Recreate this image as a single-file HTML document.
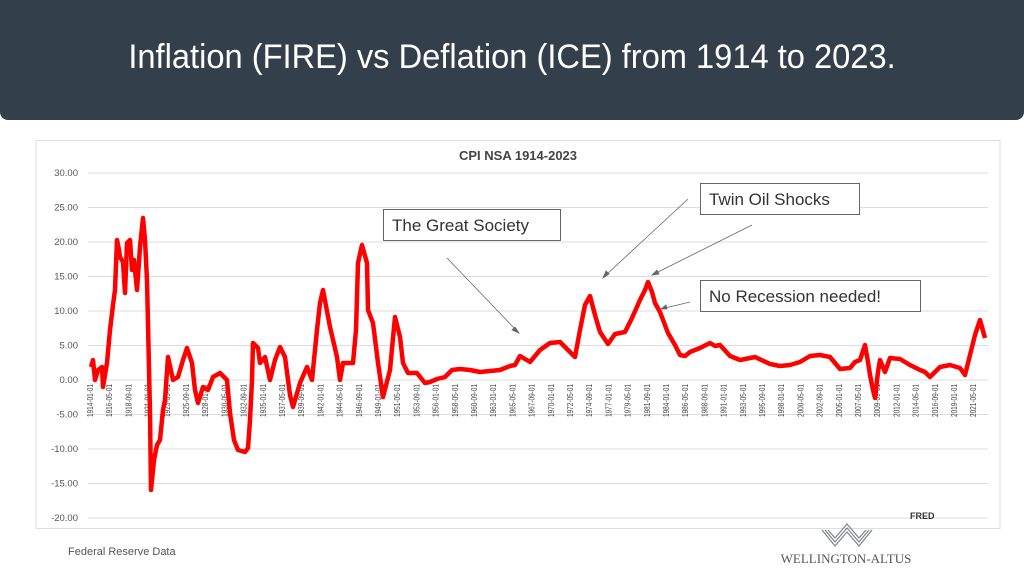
<!DOCTYPE html>
<html><head><meta charset="utf-8"><style>
body{margin:0;width:1024px;height:576px;background:#fff;overflow:hidden;position:relative;font-family:"Liberation Sans",sans-serif}
.hdr{position:absolute;left:0;top:0;width:1024px;height:120px;background:#333f4a;border-radius:0 0 8px 8px}
.hdr div{position:absolute;left:0;width:1024px;top:38px;text-align:center;color:#fff;font-size:34px;transform:scaleX(0.96);transform-origin:512px 0}
</style></head><body>
<div class="hdr"><div>Inflation (FIRE) vs Deflation (ICE) from 1914 to 2023.</div></div>
<svg width="1024" height="576" style="position:absolute;left:0;top:0">
<rect x="36" y="140.5" width="964" height="388" fill="#fff" stroke="#ddd"/>
<text x="518" y="160" text-anchor="middle" font-size="13" font-weight="bold" fill="#444">CPI NSA 1914-2023</text>
<g stroke="#dcdcdc" stroke-width="1">
<line x1="88" x2="988" y1="173" y2="173"/><line x1="88" x2="988" y1="207.5" y2="207.5"/><line x1="88" x2="988" y1="242" y2="242"/><line x1="88" x2="988" y1="276.5" y2="276.5"/><line x1="88" x2="988" y1="311" y2="311"/><line x1="88" x2="988" y1="345.5" y2="345.5"/><line x1="88" x2="988" y1="380" y2="380"/><line x1="88" x2="988" y1="414.5" y2="414.5"/><line x1="88" x2="988" y1="449" y2="449"/><line x1="88" x2="988" y1="483.5" y2="483.5"/><line x1="88" x2="988" y1="518" y2="518"/>
</g>
<g font-size="9.5" fill="#555" text-anchor="end">
<text x="78" y="176">30.00</text><text x="78" y="210.5">25.00</text><text x="78" y="245">20.00</text><text x="78" y="279.5">15.00</text><text x="78" y="314">10.00</text><text x="78" y="348.5">5.00</text><text x="78" y="383">0.00</text><text x="78" y="417.5">-5.00</text><text x="78" y="452">-10.00</text><text x="78" y="486.5">-15.00</text><text x="78" y="521">-20.00</text>
</g>
<g font-size="8" fill="#444" text-anchor="end">
<text transform="translate(93,384) rotate(-90)" textLength="33" lengthAdjust="spacingAndGlyphs">1914-01-01</text>
<text transform="translate(112.2,384) rotate(-90)" textLength="33" lengthAdjust="spacingAndGlyphs">1916-05-01</text>
<text transform="translate(131.4,384) rotate(-90)" textLength="33" lengthAdjust="spacingAndGlyphs">1918-09-01</text>
<text transform="translate(150.6,384) rotate(-90)" textLength="33" lengthAdjust="spacingAndGlyphs">1921-01-01</text>
<text transform="translate(169.8,384) rotate(-90)" textLength="33" lengthAdjust="spacingAndGlyphs">1923-05-01</text>
<text transform="translate(189,384) rotate(-90)" textLength="33" lengthAdjust="spacingAndGlyphs">1925-09-01</text>
<text transform="translate(208.2,384) rotate(-90)" textLength="33" lengthAdjust="spacingAndGlyphs">1928-01-01</text>
<text transform="translate(227.4,384) rotate(-90)" textLength="33" lengthAdjust="spacingAndGlyphs">1930-05-01</text>
<text transform="translate(246.6,384) rotate(-90)" textLength="33" lengthAdjust="spacingAndGlyphs">1932-09-01</text>
<text transform="translate(265.8,384) rotate(-90)" textLength="33" lengthAdjust="spacingAndGlyphs">1935-01-01</text>
<text transform="translate(285,384) rotate(-90)" textLength="33" lengthAdjust="spacingAndGlyphs">1937-05-01</text>
<text transform="translate(304.2,384) rotate(-90)" textLength="33" lengthAdjust="spacingAndGlyphs">1939-09-01</text>
<text transform="translate(323.4,384) rotate(-90)" textLength="33" lengthAdjust="spacingAndGlyphs">1942-01-01</text>
<text transform="translate(342.6,384) rotate(-90)" textLength="33" lengthAdjust="spacingAndGlyphs">1944-05-01</text>
<text transform="translate(361.8,384) rotate(-90)" textLength="33" lengthAdjust="spacingAndGlyphs">1946-09-01</text>
<text transform="translate(381,384) rotate(-90)" textLength="33" lengthAdjust="spacingAndGlyphs">1949-01-01</text>
<text transform="translate(400.2,384) rotate(-90)" textLength="33" lengthAdjust="spacingAndGlyphs">1951-05-01</text>
<text transform="translate(419.4,384) rotate(-90)" textLength="33" lengthAdjust="spacingAndGlyphs">1953-09-01</text>
<text transform="translate(438.6,384) rotate(-90)" textLength="33" lengthAdjust="spacingAndGlyphs">1956-01-01</text>
<text transform="translate(457.8,384) rotate(-90)" textLength="33" lengthAdjust="spacingAndGlyphs">1958-05-01</text>
<text transform="translate(477,384) rotate(-90)" textLength="33" lengthAdjust="spacingAndGlyphs">1960-09-01</text>
<text transform="translate(496.2,384) rotate(-90)" textLength="33" lengthAdjust="spacingAndGlyphs">1963-01-01</text>
<text transform="translate(515.4,384) rotate(-90)" textLength="33" lengthAdjust="spacingAndGlyphs">1965-05-01</text>
<text transform="translate(534.6,384) rotate(-90)" textLength="33" lengthAdjust="spacingAndGlyphs">1967-09-01</text>
<text transform="translate(553.8,384) rotate(-90)" textLength="33" lengthAdjust="spacingAndGlyphs">1970-01-01</text>
<text transform="translate(573,384) rotate(-90)" textLength="33" lengthAdjust="spacingAndGlyphs">1972-05-01</text>
<text transform="translate(592.2,384) rotate(-90)" textLength="33" lengthAdjust="spacingAndGlyphs">1974-09-01</text>
<text transform="translate(611.4,384) rotate(-90)" textLength="33" lengthAdjust="spacingAndGlyphs">1977-01-01</text>
<text transform="translate(630.6,384) rotate(-90)" textLength="33" lengthAdjust="spacingAndGlyphs">1979-05-01</text>
<text transform="translate(649.8,384) rotate(-90)" textLength="33" lengthAdjust="spacingAndGlyphs">1981-09-01</text>
<text transform="translate(669,384) rotate(-90)" textLength="33" lengthAdjust="spacingAndGlyphs">1984-01-01</text>
<text transform="translate(688.2,384) rotate(-90)" textLength="33" lengthAdjust="spacingAndGlyphs">1986-05-01</text>
<text transform="translate(707.4,384) rotate(-90)" textLength="33" lengthAdjust="spacingAndGlyphs">1988-09-01</text>
<text transform="translate(726.6,384) rotate(-90)" textLength="33" lengthAdjust="spacingAndGlyphs">1991-01-01</text>
<text transform="translate(745.8,384) rotate(-90)" textLength="33" lengthAdjust="spacingAndGlyphs">1993-05-01</text>
<text transform="translate(765,384) rotate(-90)" textLength="33" lengthAdjust="spacingAndGlyphs">1995-09-01</text>
<text transform="translate(784.2,384) rotate(-90)" textLength="33" lengthAdjust="spacingAndGlyphs">1998-01-01</text>
<text transform="translate(803.4,384) rotate(-90)" textLength="33" lengthAdjust="spacingAndGlyphs">2000-05-01</text>
<text transform="translate(822.6,384) rotate(-90)" textLength="33" lengthAdjust="spacingAndGlyphs">2002-09-01</text>
<text transform="translate(841.8,384) rotate(-90)" textLength="33" lengthAdjust="spacingAndGlyphs">2005-01-01</text>
<text transform="translate(861,384) rotate(-90)" textLength="33" lengthAdjust="spacingAndGlyphs">2007-05-01</text>
<text transform="translate(880.2,384) rotate(-90)" textLength="33" lengthAdjust="spacingAndGlyphs">2009-09-01</text>
<text transform="translate(899.4,384) rotate(-90)" textLength="33" lengthAdjust="spacingAndGlyphs">2012-01-01</text>
<text transform="translate(918.6,384) rotate(-90)" textLength="33" lengthAdjust="spacingAndGlyphs">2014-05-01</text>
<text transform="translate(937.8,384) rotate(-90)" textLength="33" lengthAdjust="spacingAndGlyphs">2016-09-01</text>
<text transform="translate(957,384) rotate(-90)" textLength="33" lengthAdjust="spacingAndGlyphs">2019-01-01</text>
<text transform="translate(976.2,384) rotate(-90)" textLength="33" lengthAdjust="spacingAndGlyphs">2021-05-01</text>
</g>
<polyline fill="none" stroke="#f00" stroke-width="4.5" stroke-linejoin="round" points="91,367 93,360 95,380 98,370 102,367 103,387 107,363 110,330 113,305 115,290 117,240 119,250 120,257 123,262 125,293 127,243 130,240 132,270 134,260 137,290 140,247 143,218 145,240 147,280 150,413 151,490 154,460 157,445 160,440 163,410 165,400 168,357 173,380 178,377 183,360 187,348 192,363 195,390 198,403 203,387 208,390 213,377 220,373 227,380 230,413 234,440 238,450 245,452 248,448 250,420 252,380 253,343 258,348 260,363 265,357 270,380 275,360 280,347 285,357 290,395 293,407 300,383 307,367 312,380 317,330 320,303 323,290 330,327 337,357 340,380 343,363 353,363 356,330 358,263 362,245 367,263 368,310 373,323 378,363 383,397 390,370 395,317 400,337 403,363 408,373 417,373 425,383 430,382 437,379 445,377 452,370 460,369 470,370 480,372 490,371 500,370 510,366 515,365 520,356 530,362 540,350 550,343 560,342 570,352 575,357 580,330 585,305 590,296 595,315 600,332 608,344 615,334 625,332 632,318 640,300 645,290 648,282 652,292 655,303 660,312 668,333 675,345 680,355 685,356 690,352 700,348 710,343 715,346 720,345 730,356 740,360 755,357 770,364 780,366 790,365 800,362 810,356 820,355 830,357 840,369 850,368 855,362 860,360 865,345 868,362 870,375 873,390 875,398 878,372 880,360 885,372 890,358 900,359 910,365 920,370 925,372 930,377 940,367 950,365 960,368 965,375 970,355 975,335 980,320 985,338"/>
<g stroke="#666" stroke-width="0.8" fill="#666">
<line x1="447" y1="258" x2="516" y2="330"/><polygon points="519,333 512,330 515,327"/>
<line x1="688" y1="199" x2="606" y2="275"/><polygon points="603,278 606,271 609,274"/>
<line x1="752" y1="225" x2="656" y2="273"/><polygon points="652,275 657,270 659,274"/>
<line x1="690" y1="302" x2="665" y2="308"/><polygon points="661,309 666,305 667,309"/>
</g>
<g fill="#fff" stroke="#666" stroke-width="1">
<rect x="383.5" y="209.5" width="177" height="31"/>
<rect x="700.5" y="183.5" width="159" height="31"/>
<rect x="700.5" y="280.5" width="220" height="31"/>
</g>
<g font-size="17" fill="#333">
<text x="392" y="231">The Great Society</text>
<text x="709" y="205">Twin Oil Shocks</text>
<text x="709" y="302">No Recession needed!</text>
</g>
<text x="910" y="519" font-size="9" font-weight="bold" fill="#333">FRED</text>
<text x="68" y="555" font-size="11" fill="#555">Federal Reserve Data</text>
<g stroke="#7a838c" stroke-width="1.2" fill="none">
<polyline points="822,530 835,546 847,532 859,546 872,530"/>
<polyline points="825,530 835,542 847,528 859,542 869,530"/>
<polyline points="828,530 835,538 847,524 859,538 866,530"/>
</g>
<text x="846" y="563" text-anchor="middle" font-family="Liberation Serif,serif" font-size="13" fill="#555">WELLINGTON-ALTUS</text>
</svg>
</body></html>
